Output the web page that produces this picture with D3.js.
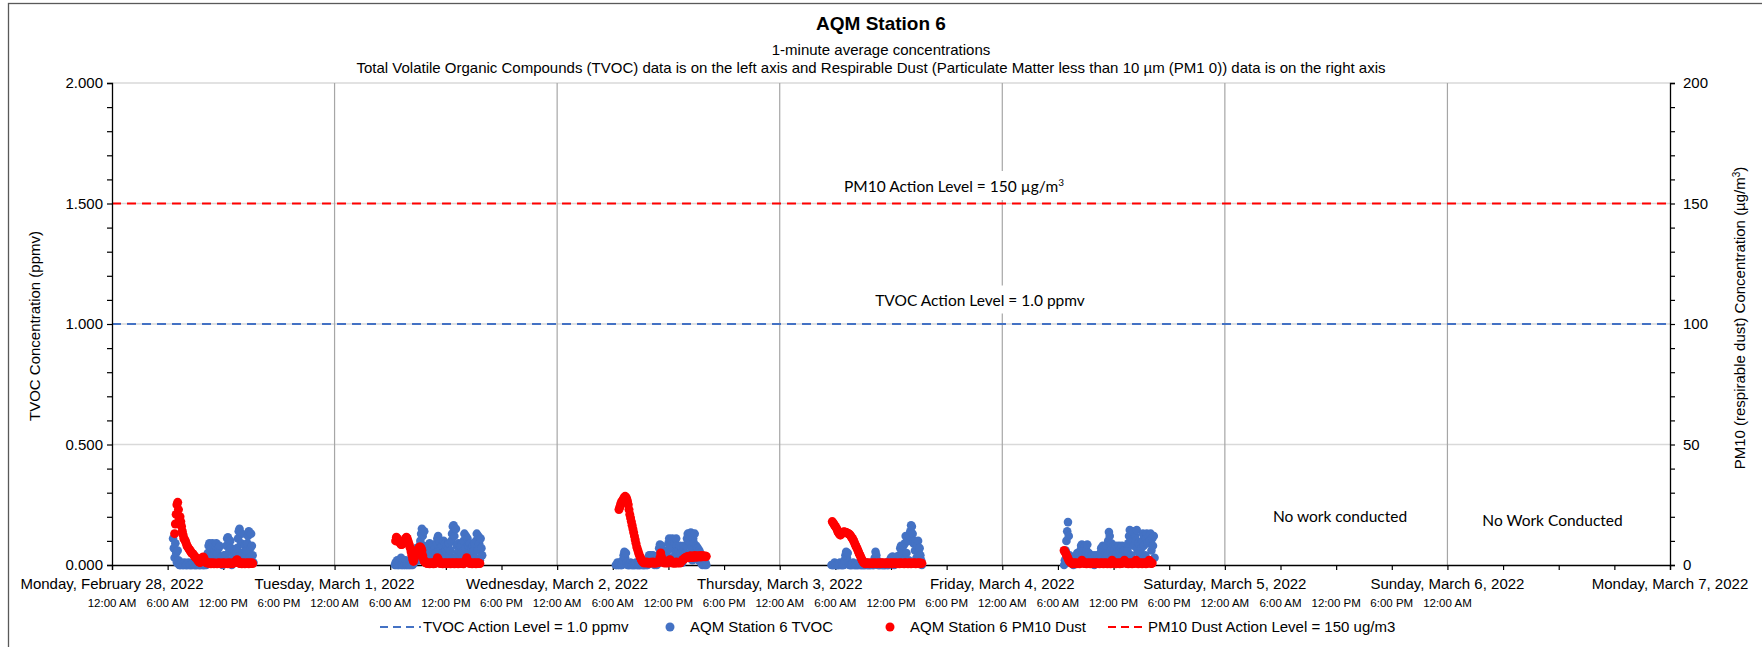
<!DOCTYPE html>
<html><head><meta charset="utf-8">
<script src="https://cdn.jsdelivr.net/npm/d3@7"></script>
<style>
html,body{margin:0;padding:0;background:#fff;}
svg{display:block;}
text{font-family:"Liberation Sans",Arial,sans-serif;fill:#000;}
.cal{font-family:Lato,"Open Sans",sans-serif;}
</style></head>
<body>
<svg id="chart" width="1762" height="647"></svg>
<script>
// ---------------- DATA ----------------
const titleText = "AQM Station 6";
const subtitle1 = "1-minute average concentrations";
const subtitle2 = "Total Volatile Organic Compounds (TVOC) data is on the left axis and Respirable Dust (Particulate Matter less than 10 µm (PM1 0)) data is on the right axis";
const dayLabels = ["Monday, February 28, 2022","Tuesday, March 1, 2022","Wednesday, March 2, 2022","Thursday, March 3, 2022","Friday, March 4, 2022","Saturday, March 5, 2022","Sunday, March 6, 2022","Monday, March 7, 2022"];
const dayDates = ["2022-02-28","2022-03-01","2022-03-02","2022-03-03","2022-03-04","2022-03-05","2022-03-06","2022-03-07"];
const timeLabels = ["12:00 AM","6:00 AM","12:00 PM","6:00 PM"];
const leftTicks = [0, 0.5, 1.0, 1.5, 2.0];
const rightTicks = [0, 50, 100, 150, 200];
const tvocActionLevel = 1.0;
const pm10ActionLevel = 150;
const legendLabels = ["TVOC Action Level = 1.0 ppmv","AQM Station 6 TVOC","AQM Station 6 PM10 Dust","PM10 Dust Action Level = 150 ug/m3"];

const sampleIntervalMin = 5;
const tvocStartTimes = ["2022-02-28T06:35","2022-03-01T06:30","2022-03-02T06:20","2022-03-03T05:35","2022-03-04T06:40"];
const tvocFeb28 = [0.11,0.07,0.03,0.09,0.05,0.01,0.06,0.02,0.00,
 0,0,0.01,0,0,0,0.01,0,0,0, 0,0.01,0,0,0,0,0,0.01,0,0, 0,0,0,0.01,0,0,0,0,0.01,0, 0,0,0,0.01,0,
 0.02,0.05,0.08,0.09,0.06,0.03,0.07,0.09,0.04,0.01,0.06,0.08,0.09,0.05,0.02,0.07,0.08,0.03,
 0.01,0.03,0.00,0.02,0.04,0.01,
 0.04,0.08,0.11,0.115,0.02,0.06,0.10,0.07,0.00,0.05,
 0.02,0.04,0.06,0.03,0.05,
 0.07,0.11,0.14,0.15,0.02,0.09,0.13,0.05,0.01,
 0.05,0.08,0.04,0.06,
 0.09,0.12,0.14,0.03,0.07,0.13,0.08,0.04,0.01];
const tvocMar1 = [0,0.01,0,0.02,0,0,0.01,0,0.03,0, 0,0.01,0,0,0.02,0,0,0.01,0,0, 0.02,0,0.01,0,0.03,0.01,
 0.03,0.05,0.07,0.04,0.06,0.02,0.08,
 0.1,0.13,0.15,0.12,0.08,0.14,0.05,0.02,
 0.06,0.03,0.08,0.05,0.09,0.02,0.07,0.04,0.08,0.06,0.01,0.07,0.05,
 0.09,0.11,0.12,0.04,0.1,0.07,0.02,
 0.08,0.05,0.1,0.03,0.09,0.06,0.08,0.01,0.07,0.09,0.04,0.06,
 0.1,0.13,0.16,0.165,0.12,0.03,0.15,0.08,0.05,
 0.09,0.06,0.02,0.08,0.05,0.09,0.03,
 0.1,0.13,0.07,0.12,0.02,0.11,0.08,0.05,
 0.09,0.04,0.07,0.01,0.08,0.06,0.09,0.03,
 0.1,0.13,0.06,0.12,0.09,0.02,0.11,0.07,0.04];
const tvocMar2 = [0,0,0.01,0,0,0.01,0,0,0,
 0.02,0.04,0.055,0.03,0.05,0.01,0,
 0,0,0,0.01,0,0,0,0,0,0, 0.01,0,0,0,0,0,0,0.01,0,0, 0,0,0,0.01,0,0,
 0.02,0.04,0.03,0.04,0.01,0.03,0.04,0.02,0,
 0.01,0.02,0,0.01,
 0.04,0.07,0.085,0.05,0.08,0.02,0.06,
 0.03,0.05,0.01,0.04,0.02,
 0.06,0.09,0.11,0.08,0.03,0.1,0.11,0.07,0.01,0.09,0.05,0.11,0.08,0.04,
 0.06,0.02,0.08,0.05,0.07,0.01,0.06,0.08,0.03,0.05,
 0.08,0.11,0.13,0.1,0.04,0.12,0.135,0.07,0.02,0.11,0.09,0.13,0.05,
 0.08,0.04,0.07,0.02,0.06,
 0.05,0.01,0.04,0,0.03,0.02,0,0.01,0];
const tvocMar3 = [0,0,0,0,0.01,0,0,0,0,0,0,0.01,0,0,0,0,0,
 0.02,0.04,0.055,0.03,0.05,0.01,0,
 0,0,0,0,0.01,0,0,0,0,0, 0,0,0.01,0,0,0,0,0,0,0, 0,0.01,0,0,0,0,0,0,0.01,0, 0,0,
 0.03,0.055,0.04,0.02,0,
 0,0,0,0.01,0,0,0,0,0,0,0.01,0,0,0,
 0.01,0.02,0.03,0.01,0.035,0.02,0,0.03,0.01,0.02,0.035,0.01,0.02,
 0.04,0.07,0.08,0.03,0.06,0.08,0.02,
 0.09,0.12,0.05,0.11,0.1,0.02,0.12,
 0.14,0.165,0.16,0.13,0.09,
 0.1,0.06,0.09,0.03,0.08,0.1,0.05,0.07,
 0.04,0.02,0];
const tvocMar4 = [0,0.02,0.06,
 0.1,0.14,0.178,0.12,
 0.04,0.02,0.03,0.01,0.02,0,0.03,0.01,0.02,
 0.03,0.05,0.02,0.04,0.05,
 0.06,0.08,0.085,0.05,0.02,0.07,0.08,0.04,0.06,0.085,0.03,0.05,0.02,
 0.03,0.01,0.04,0.02,0.03,0,0.04,0.02,0.01,0.03,0.04,0.02,0.03,
 0.05,0.07,0.03,0.08,0.06,0.02,0.075,0.05,0.08,0.04,
 0.1,0.137,0.12,0.06,0.09,
 0.07,0.04,0.08,0.06,0.02,0.08,0.05,0.07,0.03,0.08,0.06,0.01,0.07,0.08,0.04,0.06,0.03,
 0.05,0.06,0.03,0.06,
 0.09,0.12,0.145,0.1,0.04,0.13,0.14,0.08,0.02,0.12,0.1,0.145,0.06,
 0.09,0.05,0.08,0.02,0.07,
 0.1,0.13,0.08,0.12,0.04,0.11,0.13,0.09,0.02,0.12,0.1,0.13,0.06,0.11,0.08,0.12,0.03];

const pm10StartTimes = ["2022-02-28T06:45","2022-03-01T06:35","2022-03-02T06:40","2022-03-03T05:40","2022-03-04T06:40"];
const pm10Feb28 = [13,17,21,25,26, 23,19,20,18,16, 14,12.5,11,10.5,10, 9,8,7.5,7,6.5, 6,5.5,5,4.8,4.5, 4,3.5,3.2,3,2.5, 2,1.5,1.2,1,1.5, 2.2,3,3.3,2.8,2, 1.2,1,0.8,1,0.9,
 0.6,0.8,0.5,0.7,0.9,0.6,0.5,0.8,0.7,0.6, 0.5,0.7,0.9,0.6,0.8,0.5,0.6,0.7,0.9,0.6,
 0.5,0.8,0.6,0.7,0.5,0.9,0.6,0.8,0.5,0.7, 0.6,0.8,0.9,1.1, 1.5,2,2.2,1.5,
 0.9,0.7,0.6,0.8,0.5,0.7,0.9,0.6,0.5,0.8, 0.7,0.6,0.9,0.5,0.8,0.6,0.7,0.9,0.6];
const pm10Mar1 = [10,11.5,11,10.5,10,9.5,9,8.5,8.5,9, 9.5,10,10.5,11,11.5,11,10,9,8,7,
 5.5,4,2.5,1.5,2.5,3.5,4.5,5.5,6,6.5, 7,7.5,7.5,7,6,4,2.5,1.5,1.2,1,
 0.8,0.6,0.9,0.7,0.5,0.8,0.6,0.9,0.7,0.5,0.8,0.6,1.2, 2,3,2.5,
 1.2,0.8,0.6,0.9,0.7,0.5,0.8,0.6,0.9,0.7, 0.5,0.8,0.6,0.9,0.7,0.5,0.8,0.6,0.9,0.7,
 0.5,0.8,0.6,0.9,0.7,0.5,0.8,0.6,0.9,0.7, 0.6,0.8,0.5,0.9,1.2, 2,3,2,
 1.1,0.8,0.6,0.9,0.7,0.5,0.8,0.6,0.9,0.7,0.5,0.8,0.6,0.9,0.7,0.6];
const pm10Mar2 = [23,24,25,26,26.5,27,27.5,28,28.5,28, 27.5,26.5,25,23,21,19.5,18,16.5,15,13.5,
 12,10.5,9,7.5,6.5,5.5,4.5,3.5,3,2.2, 1.6,1.2,
 1,0.8,1.1,0.9,1.2,0.8,1,0.7,0.9,1.1,0.8,1,1.2,0.9,0.7,1,0.8,1.1,0.9,1,1.2,
 3,5,3.5,2,1.2, 1,0.8,1.1,0.9,1,0.8, 1.5,2,2.2,1.5,
 1,0.8,1.1,0.9,0.7,1,1.2,0.8,1,0.9,1.1,0.8,1, 1.5,2,2.3,2.5,2.8,3,3.2,
 3.3,3.5,3,3.6,3.2,3.8,3.4,3.1,3.6,3.3,3.9,3.5,3.2,3.7,3.4,3.8,3.5,3.3,3.9,3.6,3.4,3.8,3.5,3.7,3.4,3.6];
const pm10Mar3 = [18,17.5,17,16.5,16,15.5,15,14,13.5,13, 12.5,12.5,13,13.5,13.5,13.8,13.7,13.5,13.5,13.3,
 13.2,13,12.8,12.5,12,11.5,11,10.5,9.8,9, 8.3,7.6,7,6.2,5.4,4.6,4,3.2,2.5,1.8,1.2,
 0.9,0.7,0.5,0.8,0.6,0.9,0.7,0.5,0.8,0.6, 0.8,0.7,0.5,0.9,0.6,0.7,0.8,0.5,0.6,0.9,
 0.7,0.5,0.8,0.6,0.9,0.7,0.6,0.8,0.5,0.7, 0.9,0.6,0.5,0.8,0.7,0.6,0.9,0.5,0.8,0.6,
 0.7,0.9,0.5,0.6,0.8,0.7,0.5,0.9,0.6,0.8, 0.6,0.7,0.5,0.9,0.8,0.6,0.7,0.5,0.8,0.9,
 0.6,0.5,0.7,0.8,0.6,0.9,0.7,0.5,0.8,0.6, 0.7,0.9,0.5,0.8,0.6,0.7];
const pm10Mar4 = [6,5.5,5,4.2,3.5,2.8,2,1.5,1.2,
 0.9,0.7,0.5,0.8,0.6,0.9,0.7,0.5,0.8,0.6, 0.7,0.5,0.8,1.3,2,1.3,0.8,0.6,0.9,0.7,
 0.5,0.8,0.6,0.9,0.7,0.5,0.8,0.6,0.9,0.7, 0.6,0.8,0.5,0.9,0.7,0.6,0.8,0.5,0.7,0.9,
 0.6,0.8,0.5,0.7,0.9,0.6,0.8,0.5,0.7,0.6, 0.8,0.5,1.3,2,1.3,0.7,0.6,0.9,0.5,0.8,
 0.6,0.7,0.9,0.5,0.8,0.6,0.7,0.9,1.3,2, 1.3,0.8,0.6,0.9,0.5,0.7,0.8,0.6,0.9,0.5,
 0.7,0.8,0.6,1.3,2,1.3,0.9,0.5,0.7,0.8, 0.6,0.9,0.5,0.7,0.8,0.6,0.9,0.5,0.7,0.8,
 1.3,2,1.3,0.7,0.6,0.8];

const annotations = [
  {text:"No work conducted", day:"2022-03-05T12:25", value:20},
  {text:"No Work Conducted", day:"2022-03-06T11:20", value:18.3}
];

// ---------------- LAYOUT ----------------
const W = 1762, H = 647;
const M = {left:112, right:1670, top:83, bottom:565};
const parse = d3.timeParse("%Y-%m-%dT%H:%M");
const parseDay = d3.timeParse("%Y-%m-%d");
const svg = d3.select("#chart");
svg.append("rect").attr("width",W).attr("height",H).attr("fill","#fff");
svg.append("rect").attr("x",8.5).attr("y",3.5).attr("width",W+20).attr("height",H+20)
  .attr("fill","none").attr("stroke","#595959").attr("stroke-width",1.3);

const x = d3.scaleTime().domain([parseDay(dayDates[0]), parseDay(dayDates[7])]).range([M.left, M.right]);
const yL = d3.scaleLinear().domain([0,2]).range([M.bottom, M.top]);
const yR = d3.scaleLinear().domain([0,200]).range([M.bottom, M.top]);

// Title
svg.append("text").attr("x",W/2).attr("y",30).attr("text-anchor","middle")
  .style("font-size","19px").style("font-weight","bold").text(titleText);
svg.append("text").attr("x",W/2).attr("y",54.5).attr("text-anchor","middle")
  .style("font-size","15px").text(subtitle1);
svg.append("text").attr("x",W/2 - 10).attr("y",72.5).attr("text-anchor","middle")
  .style("font-size","15px").text(subtitle2);

// horizontal gridlines
svg.append("g").selectAll("line").data(leftTicks.filter(d=>d>0)).join("line")
  .attr("x1",M.left).attr("x2",M.right).attr("y1",d=>yL(d)).attr("y2",d=>yL(d))
  .attr("stroke","#d9d9d9").attr("stroke-width",1.5);
// vertical day gridlines
svg.append("g").selectAll("line").data(dayDates.slice(1,7)).join("line")
  .attr("x1",d=>x(parseDay(d))).attr("x2",d=>x(parseDay(d)))
  .attr("y1",M.top).attr("y2",M.bottom)
  .attr("stroke","#a6a6a6").attr("stroke-width",1.2);

// Action level labels (text boxes)
function boxLabel(tx, ty, parts){
  const g = svg.append("g");
  const r = g.append("rect").attr("fill","#fff");
  const t = g.append("text").attr("class","cal").attr("x",tx).attr("y",ty).attr("text-anchor","middle").style("font-size","15.5px");
  parts.forEach(p=>{
    const s = t.append("tspan").text(p.t);
    if(p.sup) s.attr("dy",-6).style("font-size","10px");
  });
  const bb = t.node().getBBox();
  r.attr("x",bb.x-6).attr("y",bb.y-5).attr("width",bb.width+12).attr("height",bb.height+10);
}
boxLabel(954, 192, [{t:"PM10 Action Level = 150 µg/m"},{t:"3",sup:true}]);
boxLabel(980, 305.5, [{t:"TVOC Action Level = 1.0 ppmv"}]);

// action level dashed lines
svg.append("line").attr("x1",M.left).attr("x2",M.right).attr("y1",yL(tvocActionLevel)).attr("y2",yL(tvocActionLevel))
  .attr("stroke","#4472c4").attr("stroke-width",2.2).attr("stroke-dasharray","9,6");
svg.append("line").attr("x1",M.left).attr("x2",M.right).attr("y1",yR(pm10ActionLevel)).attr("y2",yR(pm10ActionLevel))
  .attr("stroke","#ff0000").attr("stroke-width",2.2).attr("stroke-dasharray","9,6");

// No work annotations
annotations.forEach(a=>{
  svg.append("text").attr("class","cal").attr("x",x(parse(a.day))).attr("y",yR(a.value)+5)
    .attr("text-anchor","middle").style("font-size","15.5px").text(a.text);
});

// Axes
const leftAxis = d3.axisLeft(yL).tickValues(d3.range(0,21).map(i=>i/10)).tickSize(5)
  .tickFormat(d=> leftTicks.some(t=>Math.abs(t-d)<1e-9) ? d3.format(".3f")(d) : "");
const gL = svg.append("g").attr("transform",`translate(${M.left},0)`).call(leftAxis);
const rightAxis = d3.axisRight(yR).tickValues(d3.range(0,201,10)).tickSize(5)
  .tickFormat(d=> rightTicks.includes(d) ? d : "");
const gR = svg.append("g").attr("transform",`translate(${M.right},0)`).call(rightAxis);
const sixHourTicks = d3.range(0,29).map(i=>d3.timeHour.offset(parseDay(dayDates[0]), i*6));
const bottomAxis = d3.axisBottom(x).tickValues(sixHourTicks).tickSize(5).tickFormat("");
const gB = svg.append("g").attr("transform",`translate(0,${M.bottom})`).call(bottomAxis);
[gL,gR,gB].forEach(g=>{
  g.select(".domain").attr("stroke","#000").attr("stroke-width",1.3);
  g.selectAll(".tick line").attr("stroke","#000").attr("stroke-width",1.2);
  g.selectAll(".tick text").style("font-family","'Liberation Sans',Arial,sans-serif").style("font-size","15px").attr("fill","#000");
});
gL.selectAll(".tick text").attr("x",-9);
gR.selectAll(".tick text").attr("x",13);

// Date labels
svg.append("g").selectAll("text").data(dayDates).join("text")
  .attr("x",d=>x(parseDay(d))).attr("y",589).attr("text-anchor","middle")
  .style("font-size","15px").text((d,i)=>dayLabels[i]);
// time labels (every 6 h through Mar 6 12:00 AM)
const timeTickDates = d3.range(0,25).map(i=>d3.timeHour.offset(parseDay(dayDates[0]), i*6));
svg.append("g").selectAll("text").data(timeTickDates).join("text")
  .attr("x",d=>x(d)).attr("y",607).attr("text-anchor","middle")
  .style("font-size","11.5px").text((d,i)=>timeLabels[i%4]);

// Axis titles
svg.append("text").attr("transform","translate(40,326) rotate(-90)").attr("text-anchor","middle")
  .style("font-size","15px").text("TVOC Concentration (ppmv)");
const rt = svg.append("text").attr("transform","translate(1745,318) rotate(-90)").attr("text-anchor","middle")
  .style("font-size","15px");
rt.append("tspan").text("PM10 (respirable dust) Concentration (µg/m");
rt.append("tspan").attr("dy",-5).style("font-size","10px").text("3");
rt.append("tspan").attr("dy",5).text(")");

// Data points
function toPoints(start, arr){
  const t0 = parse(start);
  return arr.map((v,i)=>({t:d3.timeMinute.offset(t0, i*sampleIntervalMin), v}));
}
const tvocSeries = [tvocFeb28,tvocMar1,tvocMar2,tvocMar3,tvocMar4].flatMap((a,i)=>toPoints(tvocStartTimes[i],a));
const pm10Series = [pm10Feb28,pm10Mar1,pm10Mar2,pm10Mar3,pm10Mar4].flatMap((a,i)=>toPoints(pm10StartTimes[i],a));
svg.append("g").selectAll("circle").data(tvocSeries).join("circle")
  .attr("cx",d=>x(d.t)).attr("cy",d=>yL(d.v)).attr("r",4.3).attr("fill","#4472c4");
svg.append("g").selectAll("circle").data(pm10Series).join("circle")
  .attr("cx",d=>x(d.t)).attr("cy",d=>yR(d.v)).attr("r",4.5).attr("fill","#ff0000");

// Legend
const ly = 627;
const lg = svg.append("g");
lg.append("line").attr("x1",380).attr("x2",421).attr("y1",ly).attr("y2",ly)
  .attr("stroke","#4472c4").attr("stroke-width",2.2).attr("stroke-dasharray","8,5");
lg.append("text").attr("x",423).attr("y",ly+5).style("font-size","15px").text(legendLabels[0]);
lg.append("circle").attr("cx",670).attr("cy",ly).attr("r",4.5).attr("fill","#4472c4");
lg.append("text").attr("x",690).attr("y",ly+5).style("font-size","15px").text(legendLabels[1]);
lg.append("circle").attr("cx",890).attr("cy",ly).attr("r",4.5).attr("fill","#ff0000");
lg.append("text").attr("x",910).attr("y",ly+5).style("font-size","15px").text(legendLabels[2]);
lg.append("line").attr("x1",1108).attr("x2",1146).attr("y1",ly).attr("y2",ly)
  .attr("stroke","#ff0000").attr("stroke-width",2.2).attr("stroke-dasharray","8,5");
lg.append("text").attr("x",1148).attr("y",ly+5).style("font-size","15px").text(legendLabels[3]);
</script>
</body></html>
